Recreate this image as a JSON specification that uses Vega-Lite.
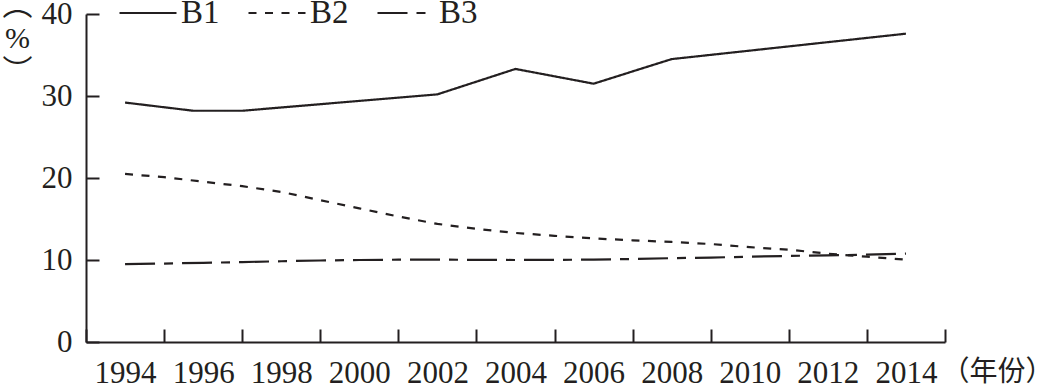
{
  "$schema": "https://vega.github.io/schema/vega-lite/v6.json",
  "autosize": {"type": "none"},
  "padding": {"left": 86, "top": 14, "right": 112, "bottom": 47},
  "width": 859,
  "height": 328,
  "background": "white",
  "config": {"view": {"stroke": null}, "font": "Liberation Serif"},
  "data": {"values": [
    {"series": "B1", "year": 1994, "value": 29.2},
    {"series": "B1", "year": 1995.75, "value": 28.2},
    {"series": "B1", "year": 1997, "value": 28.2},
    {"series": "B1", "year": 2002, "value": 30.2},
    {"series": "B1", "year": 2004, "value": 33.3},
    {"series": "B1", "year": 2006, "value": 31.5},
    {"series": "B1", "year": 2008, "value": 34.5},
    {"series": "B1", "year": 2014, "value": 37.6},
    {"series": "B2", "year": 1994, "value": 20.5},
    {"series": "B2", "year": 1995, "value": 20.1},
    {"series": "B2", "year": 1996, "value": 19.55},
    {"series": "B2", "year": 1997, "value": 19.0},
    {"series": "B2", "year": 1998, "value": 18.3},
    {"series": "B2", "year": 1999, "value": 17.3},
    {"series": "B2", "year": 2000, "value": 16.3},
    {"series": "B2", "year": 2001, "value": 15.3},
    {"series": "B2", "year": 2002, "value": 14.4},
    {"series": "B2", "year": 2003, "value": 13.8},
    {"series": "B2", "year": 2004, "value": 13.3},
    {"series": "B2", "year": 2005, "value": 12.95},
    {"series": "B2", "year": 2006, "value": 12.63},
    {"series": "B2", "year": 2007, "value": 12.4},
    {"series": "B2", "year": 2008, "value": 12.2},
    {"series": "B2", "year": 2009, "value": 11.95},
    {"series": "B2", "year": 2010, "value": 11.56},
    {"series": "B2", "year": 2011, "value": 11.26},
    {"series": "B2", "year": 2012, "value": 10.77},
    {"series": "B2", "year": 2013, "value": 10.4},
    {"series": "B2", "year": 2014, "value": 10.04},
    {"series": "B3", "year": 1994, "value": 9.5},
    {"series": "B3", "year": 1995, "value": 9.57},
    {"series": "B3", "year": 1996, "value": 9.65},
    {"series": "B3", "year": 1997, "value": 9.75},
    {"series": "B3", "year": 1998, "value": 9.85},
    {"series": "B3", "year": 1999, "value": 9.94},
    {"series": "B3", "year": 2000, "value": 10.0},
    {"series": "B3", "year": 2001, "value": 10.04},
    {"series": "B3", "year": 2002, "value": 10.04},
    {"series": "B3", "year": 2003, "value": 10.02},
    {"series": "B3", "year": 2004, "value": 10.0},
    {"series": "B3", "year": 2005, "value": 10.02},
    {"series": "B3", "year": 2006, "value": 10.05},
    {"series": "B3", "year": 2007, "value": 10.12},
    {"series": "B3", "year": 2008, "value": 10.22},
    {"series": "B3", "year": 2009, "value": 10.3},
    {"series": "B3", "year": 2010, "value": 10.4},
    {"series": "B3", "year": 2011, "value": 10.5},
    {"series": "B3", "year": 2012, "value": 10.56},
    {"series": "B3", "year": 2013, "value": 10.65},
    {"series": "B3", "year": 2014, "value": 10.77}
  ]},
  "mark": {"type": "line", "color": "#231f20", "strokeWidth": 2.2},
  "encoding": {
    "x": {
      "field": "year", "type": "quantitative",
      "scale": {"domain": [1993, 2015], "nice": false, "zero": false},
      "axis": {
        "values": [1993,1994,1995,1996,1997,1998,1999,2000,2001,2002,2003,2004,2005,2006,2007,2008,2009,2010,2011,2012,2013,2014,2015],
        "labelExpr": "datum.value % 2 == 0 ? '' + datum.value : ''",
        "labelFlush": false, "labelOverlap": false, "grid": false,
        "tickSize": -13, "tickWidth": 2, "tickColor": "#231f20",
        "tickOpacity": {"condition": {"test": "datum.value % 2 == 1", "value": 1}, "value": 0},
        "domainColor": "#231f20", "domainWidth": 2,
        "labelFont": "Liberation Serif", "labelFontSize": 31, "labelColor": "#231f20",
        "labelPadding": 29, "labelBaseline": "top",
        "title": "（年份）", "titleFont": "Noto Sans CJK SC", "titleFontSize": 28,
        "titleFontWeight": "normal", "titleColor": "#231f20",
        "titleX": 855, "titleY": 38, "titleAlign": "left", "titleBaseline": "alphabetic"
      }
    },
    "y": {
      "field": "value", "type": "quantitative",
      "scale": {"domain": [0, 40], "nice": false},
      "axis": {
        "values": [0, 10, 20, 30, 40], "grid": false,
        "tickSize": -13, "tickWidth": 2, "tickColor": "#231f20",
        "domainColor": "#231f20", "domainWidth": 2,
        "labelFont": "Liberation Serif", "labelFontSize": 31, "labelColor": "#231f20",
        "labelPadding": 27,
        "title": ["︵", "%", "︶"], "titleFont": "Liberation Serif, Noto Sans CJK SC",
        "titleFontSize": 30, "titleFontWeight": "normal", "titleColor": "#231f20",
        "titleAngle": 0, "titleX": -69, "titleY": -24, "titleAlign": "center",
        "titleBaseline": "top", "titleLineHeight": 33
      }
    },
    "strokeDash": {
      "field": "series", "type": "nominal",
      "scale": {"domain": ["B1", "B2", "B3"], "range": [[1, 0], [8, 8.5], [30, 9, 9, 9]]},
      "legend": {
        "title": null, "orient": "none", "legendX": 32, "legendY": -31,
        "direction": "horizontal", "padding": 0,
        "symbolType": "stroke", "symbolSize": 3249, "symbolStrokeWidth": 2.2,
        "symbolStrokeColor": "#231f20",
        "labelFont": "Liberation Serif", "labelFontSize": 33, "labelColor": "#231f20",
        "labelOffset": 3, "columnPadding": 24
      }
    }
  }
}
